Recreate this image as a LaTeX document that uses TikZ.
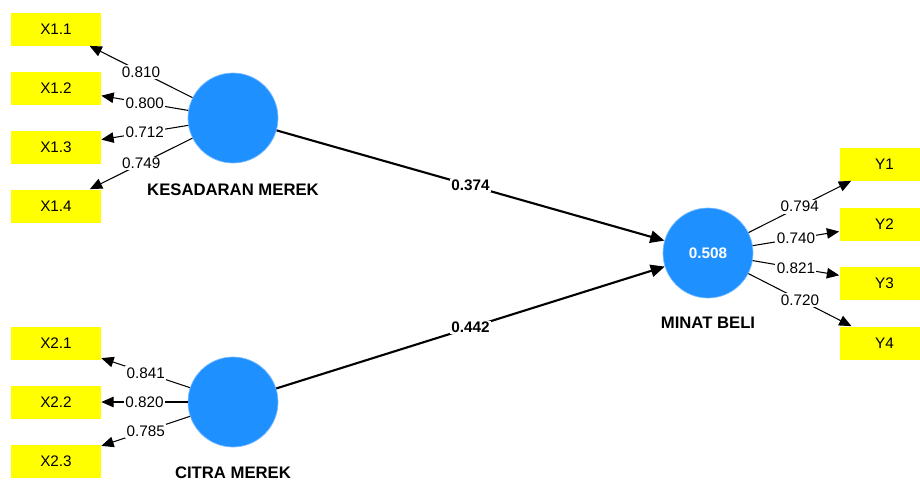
\documentclass[tikz,border=0pt]{standalone}
\usepackage{fontspec}
\setmainfont{Liberation Sans}
\usetikzlibrary{arrows.meta}
\definecolor{lvblue}{RGB}{30,144,255}
\definecolor{mvyellow}{RGB}{255,255,0}

\begin{document}
\begin{tikzpicture}[x=0.02cm,y=-0.02cm]%
  \tikzstyle{latent}=[circle,fill=lvblue,draw=lvblue!60!white,line width=0.4pt,minimum size=1.8cm,inner sep=0]
  \tikzstyle{indic}=[rectangle,fill=mvyellow,minimum width=1.8cm,minimum height=0.66cm,inner sep=0,font=\fontsize{8.7}{10}\selectfont]
  \tikzstyle{lvname}=[font=\fontsize{9.5}{11}\selectfont\bfseries]
  \tikzstyle{loading}=[-{Triangle[length=7pt,width=6pt]},line width=0.6pt]
  \tikzstyle{structural}=[-{Triangle[length=8pt,width=7pt]},line width=1.2pt]
  \tikzstyle{wt}=[fill=white,inner sep=0.8pt,font=\fontsize{8.7}{10}\selectfont]
  \tikzstyle{coef}=[fill=white,inner sep=0.8pt,font=\fontsize{8.7}{10}\selectfont\bfseries]
  \useasboundingbox (0,0) rectangle (920,481);
  % latent variables
  \node(kes)[latent] at (233,118){};
  \node(kesname)[lvname] at (233,190){KESADARAN MEREK};
  \node(cit)[latent] at (233,402){};
  \node(citname)[lvname] at (233,473){CITRA MEREK};
  \node(minat)[latent,text=white,font=\fontsize{8.7}{10}\selectfont\bfseries] at (708,253){0.508};
  \node(minatname)[lvname] at (708,323){MINAT BELI};
  % indicators
  \node(x11)[indic] at (56,29){X1.1};
  \node(x12)[indic] at (56,88){X1.2};
  \node(x13)[indic] at (56,147){X1.3};
  \node(x14)[indic] at (56,206){X1.4};
  \node(x21)[indic] at (56,343){X2.1};
  \node(x22)[indic] at (56,402){X2.2};
  \node(x23)[indic] at (56,461){X2.3};
  \node(y1)[indic] at (884.5,164){Y1};
  \node(y2)[indic] at (884.5,224){Y2};
  \node(y3)[indic] at (884.5,283){Y3};
  \node(y4)[indic] at (884.5,343){Y4};
  % outer loadings
  \draw[loading] (kes) -- node[wt]{0.810} (x11);
  \draw[loading] (kes) -- node[wt]{0.800} (x12);
  \draw[loading] (kes) -- node[wt]{0.712} (x13);
  \draw[loading] (kes) -- node[wt]{0.749} (x14);
  \draw[loading] (cit) -- node[wt]{0.841} (x21);
  \draw[loading] (cit) -- node[wt]{0.820} (x22);
  \draw[loading] (cit) -- node[wt]{0.785} (x23);
  \draw[loading] (minat) -- node[wt]{0.794} (y1);
  \draw[loading] (minat) -- node[wt]{0.740} (y2);
  \draw[loading] (minat) -- node[wt]{0.821} (y3);
  \draw[loading] (minat) -- node[wt]{0.720} (y4);
  % path coefficients
  \draw[structural] (kes) -- node[coef]{0.374} (minat);
  \draw[structural] (cit) -- node[coef]{0.442} (minat);
\end{tikzpicture}
\end{document}
